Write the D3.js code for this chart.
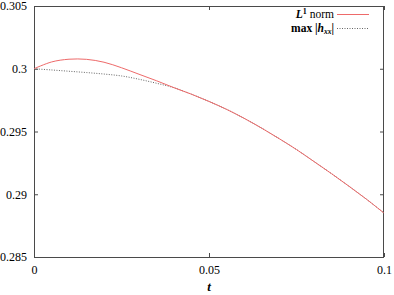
<!DOCTYPE html>
<html>
<head>
<meta charset="utf-8">
<script src="https://cdn.jsdelivr.net/npm/d3@7"></script>
<style>
html,body{margin:0;padding:0;background:#fff;}
svg{display:block;}
text{font-family:"Liberation Serif","Times New Roman",serif;}
</style>
</head>
<body>
<script>
const tValues = [0,0.005,0.01,0.015,0.02,0.025,0.03,0.035,0.04,0.045,0.05,0.055,0.06,0.065,0.07,0.075,0.08,0.085,0.09,0.095,0.1];
const l1Norm = [0.3,0.300540,0.300760,0.300750,0.300520,0.300080,0.299562,0.299044,0.298490,0.297970,0.297396,0.296766,0.296057,0.295275,0.294438,0.293562,0.292606,0.291641,0.290637,0.289602,0.288502];
const maxHxx = [0.3,0.299904,0.299801,0.299697,0.299578,0.299426,0.299163,0.298845,0.298486,0.297968,0.297394,0.296765,0.296056,0.295275,0.294438,0.293562,0.292606,0.291641,0.290637,0.289602,0.288502];
const xTicks = [0,0.05,0.1];
const xTickLabels = ["0","0.05","0.1"];
const yTicks = [0.285,0.29,0.295,0.3,0.305];
const yTickLabels = ["0.285","0.29","0.295","0.3","0.305"];

const W=394,H=295;
const L=34,R=384,T=6,B=257;
const svg=d3.select("body").append("svg").attr("width",W).attr("height",H);
const x=d3.scaleLinear().domain([0,0.1]).range([L,R]);
const y=d3.scaleLinear().domain([0.285,0.305]).range([B,T]);
const border="#4a4a4a";
const red="#ee6a6a";
const gray="#666";

function style(g){
  g.select(".domain").remove();
  g.selectAll(".tick line").attr("stroke",border);
  g.selectAll(".tick text").attr("fill","#000").style("font-size","12px").style("font-family","Liberation Serif, serif");
}
svg.append("g").attr("transform",`translate(${L},0)`)
  .call(d3.axisLeft(y).tickValues(yTicks).tickFormat((d,i)=>yTickLabels[i]).tickSize(-4).tickPadding(7)).call(style);
svg.append("g").attr("transform",`translate(${R},0)`)
  .call(d3.axisRight(y).tickValues(yTicks).tickFormat("").tickSize(-4)).call(style);
svg.append("g").attr("transform",`translate(0,${B})`)
  .call(d3.axisBottom(x).tickValues(xTicks).tickFormat((d,i)=>xTickLabels[i]).tickSize(-4).tickPadding(8)).call(style);
svg.append("g").attr("transform",`translate(0,${T})`)
  .call(d3.axisTop(x).tickValues(xTicks).tickFormat("").tickSize(-4)).call(style);

svg.append("rect").attr("x",L+0.5).attr("y",T+0.5).attr("width",R-L-1).attr("height",B-T)
  .attr("fill","none").attr("stroke",border).attr("stroke-width",1);

const line=(arr)=>d3.line().x((d,i)=>x(tValues[i])).y(d=>y(d)).curve(d3.curveCatmullRom.alpha(0.5))(arr);
svg.append("path").attr("d",line(maxHxx)).attr("fill","none").attr("stroke",gray).attr("stroke-width",1).attr("stroke-dasharray","1,1.5");
svg.append("path").attr("d",line(l1Norm)).attr("fill","none").attr("stroke",red).attr("stroke-width",1);

svg.append("text").attr("x",x(0.05)).attr("y",291).attr("text-anchor","middle")
  .style("font-size","13px").style("font-weight","bold").style("font-style","italic").text("t");

// legend
const lg=svg.append("g");
const t1=lg.append("text").attr("x",334).attr("y",18).attr("text-anchor","end").style("font-size","11.5px");
t1.append("tspan").style("font-weight","bold").style("font-style","italic").text("L");
t1.append("tspan").style("font-weight","bold").style("font-size","8px").attr("dy",-4).text("1");
t1.append("tspan").attr("dy",4).text(" norm");
lg.append("line").attr("x1",337).attr("x2",369).attr("y1",14.5).attr("y2",14.5).attr("stroke",red).attr("stroke-width",1);
const t2=lg.append("text").attr("x",334).attr("y",32).attr("text-anchor","end").style("font-size","11.5px");
t2.append("tspan").style("font-weight","bold").text("max |");
t2.append("tspan").style("font-weight","bold").style("font-style","italic").text("h");
t2.append("tspan").style("font-weight","bold").style("font-style","italic").style("font-size","7.5px").attr("dy",1.5).text("xx");
t2.append("tspan").style("font-weight","bold").attr("dy",-1.5).text("|");
lg.append("line").attr("x1",337).attr("x2",369).attr("y1",28.5).attr("y2",28.5).attr("stroke",gray).attr("stroke-width",1).attr("stroke-dasharray","1,1.5");
</script>
</body>
</html>
